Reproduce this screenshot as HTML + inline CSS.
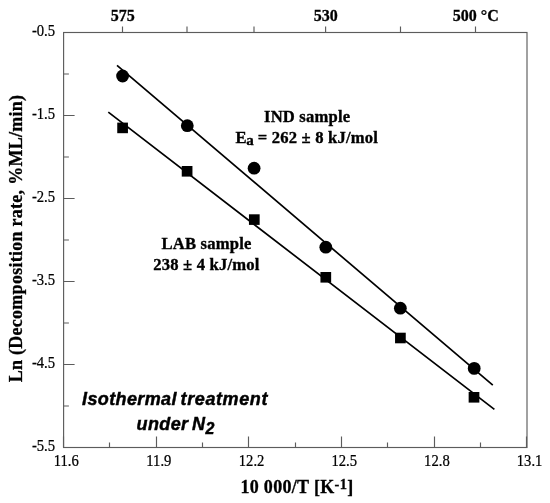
<!DOCTYPE html>
<html><head><meta charset="utf-8"><style>
html,body{margin:0;padding:0;background:#fff;}
body{width:550px;height:503px;overflow:hidden;}
svg{display:block;will-change:transform;}
.tl{font-family:"Liberation Serif",serif;font-size:16px;fill:#000;stroke:#000;stroke-width:0.25px;}
.bl{font-family:"Liberation Serif",serif;font-size:16px;font-weight:bold;fill:#000;stroke:#000;stroke-width:0.3px;}
.ti{font-family:"Liberation Serif",serif;font-size:18px;font-weight:bold;letter-spacing:0.32px;fill:#000;stroke:#000;stroke-width:0.3px;}
.an{font-family:"Liberation Serif",serif;font-size:16.6px;font-weight:bold;letter-spacing:0.2px;fill:#000;stroke:#000;stroke-width:0.35px;}
.it{font-family:"Liberation Sans",sans-serif;font-size:18px;font-weight:bold;font-style:italic;letter-spacing:0.38px;fill:#000;stroke:#000;stroke-width:0.45px;}
</style></head><body>
<svg width="550" height="503" viewBox="0 0 550 503">
<rect x="63.6" y="32.5" width="463.4" height="415.0" fill="none" stroke="#5c5c5c" stroke-width="1.15"/>
<path d="M63.50 447.5V436.5 M109.50 447.5V442.5 M156.50 447.5V436.5 M202.50 447.5V442.5 M248.50 447.5V436.5 M295.50 447.5V442.5 M341.50 447.5V436.5 M387.50 447.5V442.5 M434.50 447.5V436.5 M480.50 447.5V442.5 M526.50 447.5V436.5 M63.6 32.50H74.6 M63.6 74.00H68.9 M63.6 115.50H74.6 M63.6 157.00H68.9 M63.6 198.50H74.6 M63.6 240.00H68.9 M63.6 281.50H74.6 M63.6 323.00H68.9 M63.6 364.50H74.6 M63.6 406.00H68.9 M63.6 447.50H74.6 M122.50 32.5V26.5 M187.00 32.5V26.5 M254.00 32.5V26.5 M325.60 32.5V26.5 M400.50 32.5V26.5 M475.50 32.5V26.5" stroke="#5c5c5c" stroke-width="1.15" fill="none"/>
<text transform="translate(66.20 465.70) scale(0.915 1)" class="tl" text-anchor="middle">11.6</text>
<text transform="translate(158.88 465.70) scale(0.915 1)" class="tl" text-anchor="middle">11.9</text>
<text transform="translate(251.56 465.70) scale(0.915 1)" class="tl" text-anchor="middle">12.2</text>
<text transform="translate(344.24 465.70) scale(0.915 1)" class="tl" text-anchor="middle">12.5</text>
<text transform="translate(436.92 465.70) scale(0.915 1)" class="tl" text-anchor="middle">12.8</text>
<text transform="translate(529.60 465.70) scale(0.915 1)" class="tl" text-anchor="middle">13.1</text>
<text transform="translate(55.10 36.30) scale(0.915 1)" class="tl" text-anchor="end">-0.5</text>
<text transform="translate(55.10 119.30) scale(0.915 1)" class="tl" text-anchor="end">-1.5</text>
<text transform="translate(55.10 202.30) scale(0.915 1)" class="tl" text-anchor="end">-2.5</text>
<text transform="translate(55.10 285.30) scale(0.915 1)" class="tl" text-anchor="end">-3.5</text>
<text transform="translate(55.10 368.30) scale(0.915 1)" class="tl" text-anchor="end">-4.5</text>
<text transform="translate(55.10 451.30) scale(0.915 1)" class="tl" text-anchor="end">-5.5</text>
<text transform="translate(122.70 20.80)" class="bl" text-anchor="middle">575</text>
<text transform="translate(325.80 20.80)" class="bl" text-anchor="middle">530</text>
<text transform="translate(475.70 20.80)" class="bl" text-anchor="middle">500 °C</text>
<text transform="translate(297.00 492.70)" class="ti" text-anchor="middle">10 000/T [K<tspan dy="-4" font-size="14.5">-1</tspan><tspan dy="4">]</tspan></text>
<text transform="translate(21.9 238.5) rotate(-90)" class="ti" style="font-size:18px;letter-spacing:0.27px" text-anchor="middle">Ln (Decomposition rate, %ML/min)</text>
<path d="M117 65.4L492.8 385.2M108.3 112.2L494.4 409.4" stroke="#000" stroke-width="1.7" fill="none"/>
<circle cx="122.6" cy="76.0" r="6.4" fill="#000"/>
<circle cx="187.3" cy="125.7" r="6.4" fill="#000"/>
<circle cx="254.1" cy="168.2" r="6.4" fill="#000"/>
<circle cx="325.8" cy="247.2" r="6.4" fill="#000"/>
<circle cx="400.35" cy="308.2" r="6.4" fill="#000"/>
<circle cx="474.2" cy="368.4" r="6.4" fill="#000"/>
<rect x="117.25" y="122.60" width="10.7" height="10.6" fill="#000"/>
<rect x="181.75" y="166.00" width="10.7" height="10.6" fill="#000"/>
<rect x="248.95" y="214.30" width="10.7" height="10.6" fill="#000"/>
<rect x="320.45" y="272.00" width="10.7" height="10.6" fill="#000"/>
<rect x="395.05" y="332.70" width="10.7" height="10.6" fill="#000"/>
<rect x="468.65" y="392.00" width="10.7" height="10.6" fill="#000"/>
<text transform="translate(264.00 121.70)" class="an">IND sample</text>
<text transform="translate(235.50 142.60)" class="an">E<tspan dx="-0.5" dy="2.5" font-size="15">a</tspan><tspan dx="-0.7" dy="-2.5"> = 262 ± 8 kJ/mol</tspan></text>
<text transform="translate(161.50 249.30)" class="an">LAB sample</text>
<text transform="translate(153.20 269.60)" class="an">238 ± 4 kJ/mol</text>
<text transform="translate(82.00 404.60)" class="it">Isothermal <tspan dx="-1.6" style="letter-spacing:0.6px">treatment</tspan></text>
<text transform="translate(136.50 430.00)" class="it">under <tspan dx="-1.8">N</tspan><tspan dy="4.4" font-size="16">2</tspan></text>
</svg>
</body></html>
